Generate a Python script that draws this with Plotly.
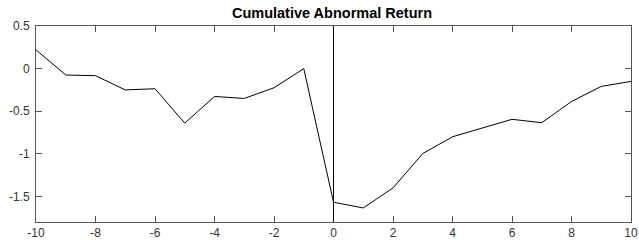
import plotly.graph_objects as go

days = list(range(-10, 11))
car = [0.22, -0.075, -0.083, -0.25, -0.236, -0.64, -0.327, -0.35, -0.225, 0.0,
       -1.568, -1.635, -1.40, -0.997, -0.80, -0.70, -0.595, -0.635, -0.386, -0.209, -0.15]

x_ticks = list(range(-10, 11, 2))
x_labels = [str(v) for v in x_ticks]
y_ticks = [0.5, 0, -0.5, -1, -1.5]
y_labels = ["0.5", "0", "-0.5", "-1", "-1.5"]
event_day = 0

W, H = 639, 240

fig = go.Figure()
fig.add_trace(go.Scatter(x=days, y=car, mode="lines",
                         line=dict(color="black", width=1), showlegend=False))
fig.add_shape(type="line", xref="x", yref="y domain", x0=event_day, x1=event_day,
              y0=0, y1=1, line=dict(color="black", width=1))

axis_common = dict(showgrid=False, zeroline=False, showline=True, linecolor="#555555",
                   linewidth=1, mirror="ticks", ticks="inside", ticklen=6,
                   tickcolor="#555555", tickwidth=1, automargin=False,
                   tickfont=dict(family="Liberation Sans, Arial", size=12, color="#333333"))

fig.update_layout(
    width=W, height=H,
    margin=dict(l=36, r=8, t=26, b=18),
    paper_bgcolor="white", plot_bgcolor="white",
    title=dict(text="<b>Cumulative Abnormal Return</b>", x=(332 - 36) / 595, xanchor="center",
               xref="paper", yref="container", y=1 - 13 / H, yanchor="middle",
               font=dict(family="Liberation Sans, Arial", size=14.5, color="black")),
    xaxis=dict(range=[-10, 10], tickvals=x_ticks, ticktext=x_labels, ticklabelstandoff=0, **axis_common),
    yaxis=dict(range=[-1.8, 0.5], tickvals=y_ticks, ticktext=y_labels, ticklabelstandoff=3, **axis_common),
)

fig.write_html("out.html", config={"displayModeBar": False},
               post_script="document.body.style.margin='0';document.body.style.overflow='hidden';")
